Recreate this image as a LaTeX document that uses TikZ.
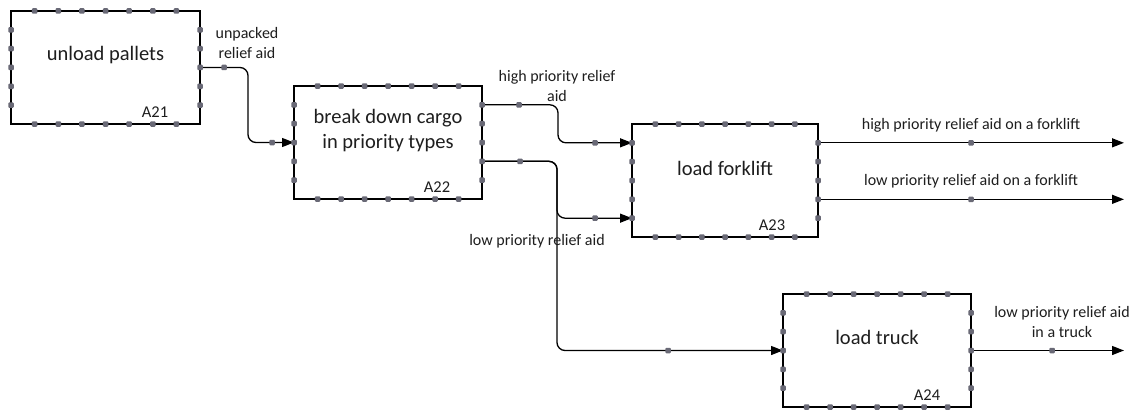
\documentclass[tikz,border=0pt]{standalone}
\usepackage{fontspec}
\setmainfont{Carlito}
\usetikzlibrary{arrows.meta,calc}
\definecolor{dotgray}{RGB}{105,105,118}
\definecolor{txt}{RGB}{30,30,30}
\newcommand\boxdots[1]{%
  \foreach \k in {1,...,7}{%
    \node[bdot] (#1-t\k) at ($(#1.north west)!\k/8!(#1.north east)$) {};
    \node[bdot] (#1-b\k) at ($(#1.south west)!\k/8!(#1.south east)$) {};
  }%
  \foreach \k in {1,...,5}{%
    \node[bdot] (#1-l\k) at ($(#1.north west)!\k/6!(#1.south west)$) {};
    \node[bdot] (#1-r\k) at ($(#1.north east)!\k/6!(#1.south east)$) {};
  }%
}
\begin{document}
\begin{tikzpicture}[x=1pt,y=-1pt,
  fnbox/.style={draw=black, line width=1.6, minimum width=188, minimum height=113,
    anchor=north west, inner sep=0, outer sep=0},
  bdot/.style={fill=dotgray, draw=none, minimum size=5.5, inner sep=0, rounded corners=1},
  title/.style={font=\fontsize{20.5}{25}\selectfont, text=txt, align=center, inner sep=0},
  ident/.style={font=\fontsize{16.5}{20}\selectfont, text=txt, inner sep=0},
  lbl/.style={font=\fontsize{16}{20}\selectfont, text=txt, align=center, inner sep=0},
  conn/.style={draw=black, line width=1.3, rounded corners=8},
  arr/.style={conn, -{Triangle[length=12,width=9]}}
]
\useasboundingbox (0,0) rectangle (1135,412);
\fill[white] (0,0) rectangle (1135,412);

% boxes
\node[fnbox, minimum width=189] (a21) at (11,11) {};
\node[fnbox] (a22) at (294,86) {};
\node[fnbox, minimum width=186] (a23) at (632,124) {};
\node[fnbox] (a24) at (783,294) {};

% titles and identifiers
\node[title] (t21) at ($(a21.north)+(0,44)$) {unload pallets};
\node[title] (t22) at ($(a22.north)+(0,44.5)$) {break down cargo\\in priority types};
\node[title] (t23) at ($(a23.north)+(0,44)$) {load forklift};
\node[title] (t24) at ($(a24.north)+(0,43)$) {load truck};
\node[ident] (i21) at ($(a21.south east)+(-45,-12)$) {A21};
\node[ident] (i22) at ($(a22.south east)+(-45,-12)$) {A22};
\node[ident] (i23) at ($(a23.south east)+(-46,-12)$) {A23};
\node[ident] (i24) at ($(a24.south east)+(-44,-12)$) {A24};

% ports
\coordinate (a21o) at (a21.east);
\coordinate (a22o1) at ($(a22.north east)!1/6!(a22.south east)$);
\coordinate (a22o2) at ($(a22.north east)!4/6!(a22.south east)$);
\coordinate (a23i1) at ($(a23.north west)!1/6!(a23.south west)$);
\coordinate (a23i2) at ($(a23.north west)!5/6!(a23.south west)$);
\coordinate (a23o1) at ($(a23.north east)!1/6!(a23.south east)$);
\coordinate (a23o2) at ($(a23.north east)!4/6!(a23.south east)$);
\coordinate (xend) at (1124,0);

% connectors
\draw[arr] (a21o) -- ++(48,0) |- (a22.west);
\draw[arr] (a22o1) -- ++(76,0) |- (a23i1);
\draw[arr] (a22o2) -- ++(75,0) |- (a23i2);
\draw[arr] (a22o2) -- ++(75,0) |- (a24.west);
\draw[arr] (a23o1) -- (a23o1 -| xend);
\draw[arr] (a23o2) -- (a23o2 -| xend);
\draw[arr] (a24.east) -- (a24.east -| xend);

% box dots
\boxdots{a21}
\boxdots{a22}
\boxdots{a23}
\boxdots{a24}

% connector dots
\node[bdot] (c1a) at ($(a21o)+(24,0)$) {};
\node[bdot] (c1b) at ($(a22.west)+(-22,0)$) {};
\node[bdot] (c2a) at ($(a22o1)+(37,0)$) {};
\node[bdot] (c2b) at ($(a23i1)+(-37,0)$) {};
\node[bdot] (c3a) at ($(a22o2)+(38,0)$) {};
\node[bdot] (c3b) at ($(a23i2)+(-37,0)$) {};
\node[bdot] (c3c) at ($(a24.west)+(-115,0)$) {};
\node[bdot] (c4a) at ($(a23o1)!0.5!(a23o1 -| xend)$) {};
\node[bdot] (c4b) at ($(a23o2)!0.5!(a23o2 -| xend)$) {};
\node[bdot] (c5a) at ($(a24.east)+(81,0)$) {};

% labels
\node[lbl] (l1) at (247,43) {unpacked\\relief aid};
\node[lbl] (l2) at (557,86.5) {high priority relief\\aid};
\node[lbl] (l3) at (537,241) {low priority relief aid};
\node[lbl] (l4) at (971,125) {high priority relief aid on a forklift};
\node[lbl] (l5) at (971,181) {low priority relief aid on a forklift};
\node[lbl] (l6) at (1062,322.5) {low priority relief aid\\in a truck};
\end{tikzpicture}
\end{document}
